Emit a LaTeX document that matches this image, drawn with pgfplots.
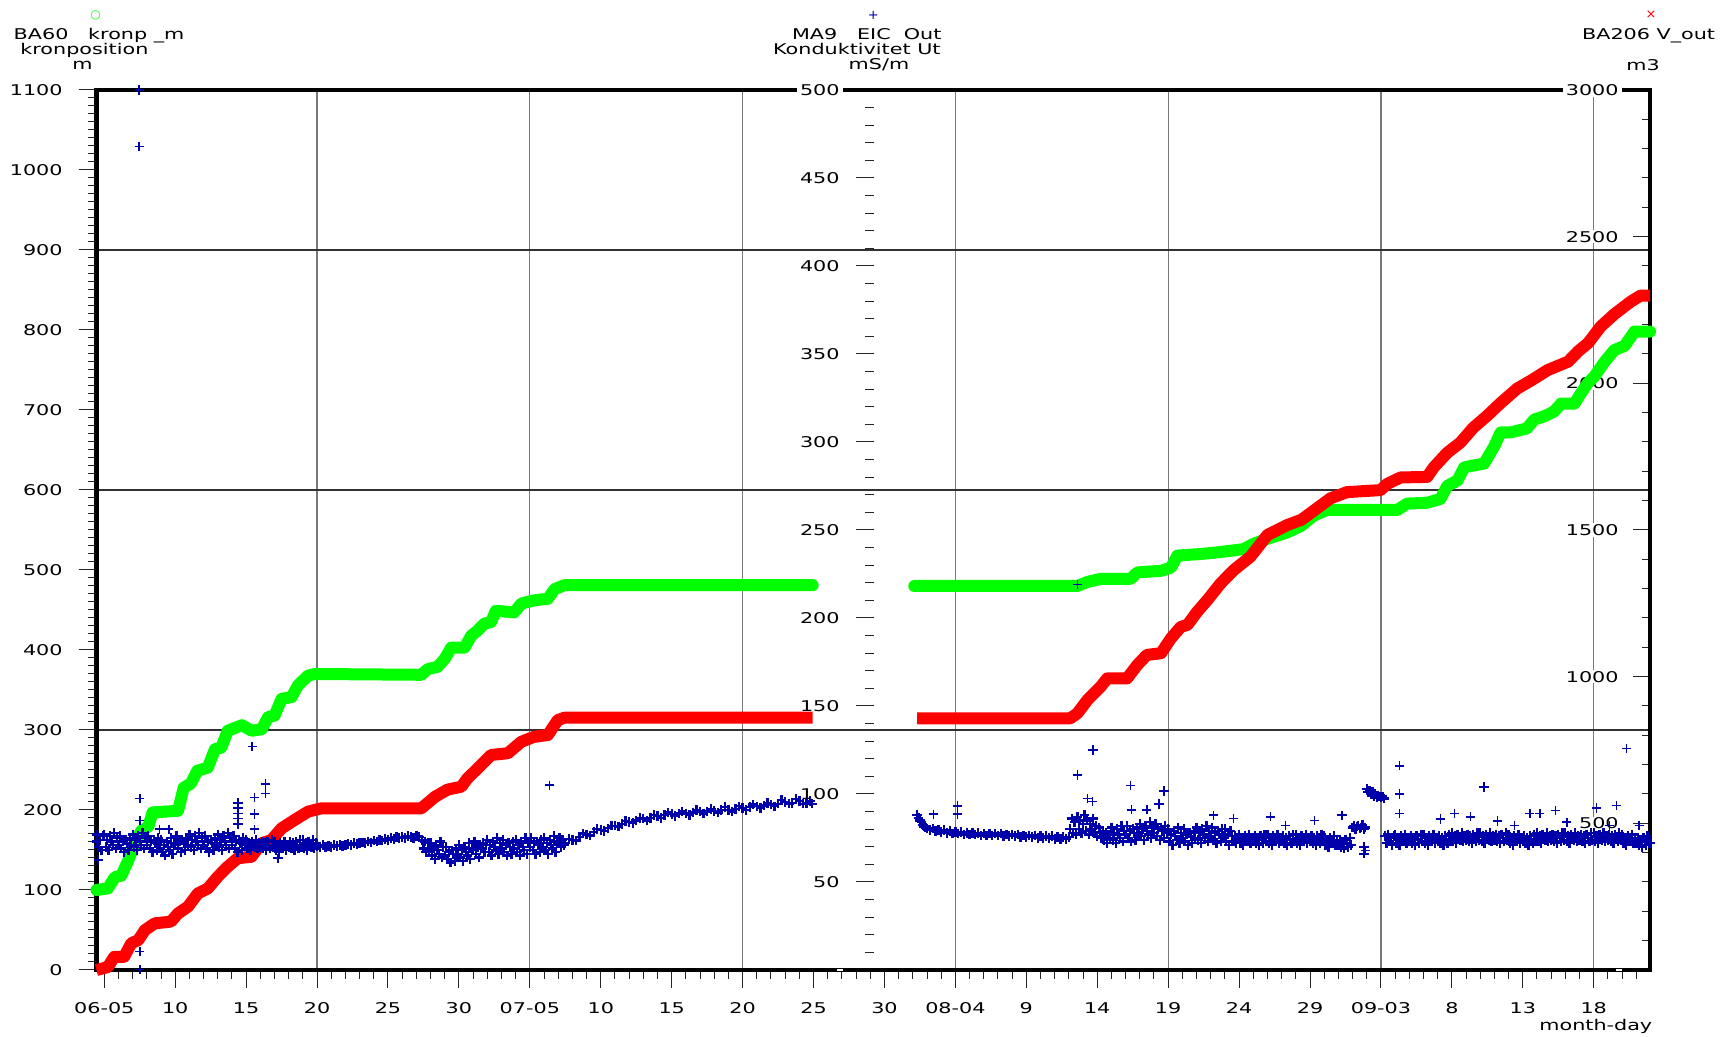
\documentclass[border=0pt]{standalone}
\usepackage{fontspec}
\setmainfont{DejaVu Sans}[FakeStretch=1.4]
\newfontfamily\symfont{DejaVu Sans}
\usepackage{pgfplots}
\pgfplotsset{compat=1.18}

\definecolor{kron}{RGB}{0,255,0}
\definecolor{vout}{RGB}{255,0,0}
\definecolor{kond}{RGB}{0,0,170}
\definecolor{vgrid}{RGB}{120,120,120}
\definecolor{hgrid}{RGB}{50,50,50}

\newcommand\lbl{\fontsize{7.4}{8.5}\selectfont}

\pgfplotsset{
  panel/.style={
    set layers, scale only axis, width=776.75pt, height=440pt,
    at={(0,0)}, anchor=south west,
    xmin=4.45, xmax=113.97, clip=false,
    ticklabel style={font=\lbl},
    major tick style={black!85, line width=0.5pt},
    minor tick style={black!85, line width=0.5pt},
  },
  kondmark/.style={only marks, mark=+, mark size=2.4pt, kond,
    mark options={line width=1.15pt}},
  kondsingle/.style={only marks, mark=+, mark size=2.3pt, kond,
    mark options={line width=0.75pt}},
}

\begin{document}
\begin{tikzpicture}

% ---------- left axis: crown position (m), frame, grid, time axis ----------
\begin{axis}[panel,
  ymin=0, ymax=1100,
  axis line style={line width=2.2pt, black},
  xtick pos=bottom, ytick pos=left, tick align=outside,
  major tick length=9pt, minor tick length=4.5pt,
  xtick={5,10,...,110},
  xticklabels={06-05,10,15,20,25,30,07-05,10,15,20,25,30,08-04,9,14,19,24,29,09-03,8,13,18},
  minor xtick={5,6,...,113},
  ytick={0,100,...,1100},
  yticklabels={0,100,200,300,400,500,600,700,800,900,1000,1100},
  minor ytick={0,10,...,1100},
  xticklabel style={anchor=north, inner sep=0pt, yshift=-7pt},
  yticklabel style={anchor=east, inner sep=0pt, xshift=-7.75pt},
  extra x ticks={20,35,50,65,80,95,110},
  extra x tick labels={},
  extra x tick style={xmajorgrids=true, major tick length=0pt,
    major grid style={vgrid, line width=0.65pt}},
  extra y ticks={300,600,900},
  extra y tick labels={},
  extra y tick style={ymajorgrids=true, major tick length=0pt,
    major grid style={hgrid, line width=0.65pt}},
]
\addplot[kron, line width=6pt, line join=round, line cap=round] coordinates {
(4.45,100) (5.25,102) (5.74,116) (6.2,118) (6.69,137) (7.16,158) (7.6,174)
(8.1,179) (8.4,197) (10.2,199) (10.6,228) (11.1,233) (11.55,249) (12.3,253)
(12.8,276) (13.25,278) (13.7,299) (14.7,306) (15.4,299) (16.1,301) (16.55,316)
(17.0,318) (17.5,339) (18.2,341) (18.66,356) (19.37,368) (19.83,370) (27.35,369)
(27.8,376) (28.5,379) (29.0,389) (29.46,403) (30.4,403) (30.87,418) (31.3,424)
(31.8,433) (32.27,435) (32.6,449) (33.9,447) (34.4,458) (35.3,462) (36.27,464)
(36.74,476) (37.44,481) (54.94,481)
};
\addplot[kron, line width=6pt, line join=round, line cap=round] coordinates {
(62.1,480) (73.6,480) (74.3,485) (75.25,489) (77.36,489) (77.83,497) (79.5,499)
(80.2,503) (80.65,518) (82.3,520) (83.46,522) (85.3,526) (86.05,533) (87.0,539)
(88.4,547) (89.35,555) (90.27,568) (91.2,575) (96.15,575) (96.85,583) (98.26,584)
(99.2,589) (99.67,605) (100.4,612) (100.86,628) (101.33,630) (102.27,633)
(102.97,654) (103.44,672) (104.15,672) (105.3,677) (105.8,688) (106.5,692)
(107.2,698) (107.7,708) (108.64,708) (109.1,721) (109.6,734) (110.05,742)
(110.76,760) (111.46,775) (112.17,780) (112.87,798) (113.97,798)
};
\end{axis}

% ---------- right axis: outflow volume (m3) ----------
\begin{axis}[panel,
  ymin=0, ymax=3000,
  axis x line=none, axis y line*=right, y axis line style={draw=none},
  tick align=inside, major tick length=8.5pt, minor tick length=4pt,
  ytick={0,500,...,3000},
  yticklabels={,500,1000,1500,2000,2500,3000},
  minor ytick={0,100,...,3000},
  yticklabel style={anchor=east, fill=white, inner xsep=1.5pt, inner ysep=0.5pt, xshift=-14pt},
]
\addplot[vout, line width=6pt, line join=round] coordinates {
(4.45,0) (5.25,10) (5.7,45) (6.4,45) (6.9,91) (7.4,102) (7.86,136) (8.56,159)
(9.7,165) (10.2,193) (10.9,216) (11.6,261) (12.3,278) (13.0,318) (13.7,352)
(14.4,381) (15.37,386) (16.08,432) (16.78,443) (17.5,483) (18.4,511) (19.37,540)
(20.3,551) (27.35,551) (28.3,590) (29.2,615) (30.17,625) (30.6,653) (31.57,699)
(32.27,733) (33.45,739) (34.4,778) (35.3,795) (36.27,801) (36.97,852)
(37.44,860) (54.94,860)
};
\addplot[vout, line width=6pt, line join=round] coordinates {
(62.3,858) (73.1,858) (73.6,875) (74.3,920) (75.25,966) (75.7,994) (77.1,994)
(77.83,1040) (78.5,1074) (79.5,1080) (80.2,1131) (80.9,1170) (81.35,1176)
(82.06,1222) (82.76,1261) (83.7,1318) (84.64,1364) (85.8,1409) (87.0,1483)
(87.7,1500) (88.4,1517) (89.4,1535) (90.27,1566) (91.45,1608) (92.6,1629)
(94.97,1636) (95.44,1657) (96.38,1679) (98.26,1681) (98.73,1714) (99.67,1763)
(100.6,1798) (101.5,1848) (102.5,1890) (103.44,1933) (104.6,1982) (105.6,2010)
(106.75,2045) (108.2,2074) (108.9,2109) (109.6,2137) (110.5,2194) (111.46,2236)
(112.6,2278) (113.3,2299) (113.97,2299)
};
\end{axis}

% ---------- conductivity (mS/m), plotted on the 0--500 scale ----------
\begin{axis}[panel, ymin=0, ymax=500, hide axis]
% June 4 -- July 25
\addplot[kondmark] coordinates {
(4.45,73)(4.5,77)(4.6,70)(4.7,74)(4.8,68)(4.9,76)
(5.0,77)(5.1,70)(5.2,74)(5.3,68)(5.4,76)(5.5,73)(5.6,71)(5.7,78)(5.8,69)(5.9,75)
(6.0,71)(6.1,76)(6.2,69)(6.3,73)(6.4,67)(6.5,74)(6.6,72)(6.7,68)(6.8,75)(6.9,71)
(7.0,77)(7.1,70)(7.2,74)(7.3,68)(7.4,76)(7.5,73)(7.6,71)(7.7,78)(7.8,69)(7.9,75)
(8.0,71)(8.1,76)(8.2,69)(8.3,73)(8.4,67)(8.5,74)(8.6,72)(8.7,68)(8.8,75)(8.9,71)
(9.0,74)(9.1,67)(9.2,71)(9.3,65)(9.4,73)(9.5,70)(9.6,68)(9.7,75)(9.8,66)(9.9,72)
(10.0,71)(10.1,76)(10.2,69)(10.3,73)(10.4,67)(10.5,74)(10.6,72)(10.7,68)(10.8,75)(10.9,71)
(11.0,77)(11.1,70)(11.2,74)(11.3,68)(11.4,76)(11.5,73)(11.6,71)(11.7,78)(11.8,69)(11.9,75)
(12.0,71)(12.1,76)(12.2,69)(12.3,73)(12.4,67)(12.5,74)(12.6,72)(12.7,68)(12.8,75)(12.9,71)
(13.0,77)(13.1,70)(13.2,74)(13.3,68)(13.4,76)(13.5,73)(13.6,71)(13.7,78)(13.8,69)(13.9,75)
(14.0,71)(14.1,76)(14.2,69)(14.3,73)(14.4,67)(14.5,74)(14.6,72)(14.7,68)(14.8,75)(14.9,71)
(15.0,74)(15.1,69)(15.2,72)(15.3,68)(15.4,73)(15.5,71)(15.6,70)(15.7,74)(15.8,69)(15.9,72)
(16.0,70)(16.1,73)(16.2,69)(16.3,72)(16.4,68)(16.5,73)(16.6,71)(16.7,69)(16.8,74)(16.9,70)
(17.0,73)(17.1,68)(17.2,71)(17.3,67)(17.4,72)(17.5,70)(17.6,69)(17.7,73)(17.8,68)(17.9,71)
(18.0,70)(18.1,73)(18.2,69)(18.3,72)(18.4,68)(18.5,73)(18.6,71)(18.7,69)(18.8,74)(18.9,70)
(19.0,74)(19.1,69)(19.2,72)(19.3,68)(19.4,73)(19.5,71)(19.6,70)(19.7,74)(19.8,69)(19.9,72)
(20.0,70.5)(20.2,70)(20.4,71)(20.6,70)(20.8,70.5)(21.0,70)(21.2,71)(21.4,70.5)(21.6,71)
(21.8,70.5)(22.0,71)(22.2,71.5)(22.4,71)(22.6,72)(22.8,71.5)(23.0,72)(23.2,72.5)(23.4,72)
(23.6,73)(23.8,72.5)(24.0,73.5)(24.2,73)(24.4,74)(24.6,73.5)(24.8,74.5)(25.0,74)(25.2,75)
(25.4,74.5)(25.6,75.5)(25.8,75)(26.0,75.5)(26.2,75)(26.4,76)(26.6,75.5)(26.8,75)(27.0,76)
(27.2,75.5)
(27.4,74)(27.5,69)(27.6,73)(27.7,67)(27.8,72)(27.9,68)
(28.0,72)(28.1,65)(28.2,69)(28.3,63)(28.4,71)(28.5,68)(28.6,66)(28.7,73)(28.8,64)(28.9,70)
(29.0,65)(29.1,70)(29.2,63)(29.3,67)(29.4,61)(29.5,68)(29.6,66)(29.7,62)(29.8,69)(29.9,65)
(30.0,71)(30.1,64)(30.2,68)(30.3,62)(30.4,70)(30.5,67)(30.6,65)(30.7,72)(30.8,63)(30.9,69)
(31.0,68)(31.1,73)(31.2,66)(31.3,70)(31.4,64)(31.5,71)(31.6,69)(31.7,72)(31.8,67)(31.9,71)
(32.0,74)(32.1,67)(32.2,71)(32.3,65)(32.4,73)(32.5,70)(32.6,68)(32.7,75)(32.8,66)(32.9,72)
(33.0,69)(33.1,74)(33.2,67)(33.3,71)(33.4,65)(33.5,72)(33.6,70)(33.7,66)(33.8,73)(33.9,69)
(34.0,74)(34.1,67)(34.2,71)(34.3,65)(34.4,73)(34.5,70)(34.6,68)(34.7,75)(34.8,66)(34.9,72)
(35.0,70)(35.1,75)(35.2,68)(35.3,72)(35.4,66)(35.5,73)(35.6,71)(35.7,67)(35.8,74)(35.9,70)
(36.0,75)(36.1,68)(36.2,72)(36.3,66)(36.4,74)(36.5,71)(36.6,69)(36.7,76)(36.8,67)(36.9,73)
(37.0,72)(37.1,75)(37.2,70)(37.3,74)(37.4,71)
(37.5,72)(37.75,74.5)(38.0,74)(38.25,73.5)(38.5,75.5)(38.75,77.5)(39.0,77)(39.25,76.5)
(39.5,78.5)(39.75,80)(40.0,79.5)(40.25,79)(40.5,80.5)(40.75,82)(41.0,82)(41.25,81.5)
(41.5,83)(41.75,84.5)(42.0,84)(42.25,83.5)(42.5,85)(42.75,86.5)(43.0,86)(43.25,85)
(43.5,86.5)(43.75,88)(44.0,87.5)(44.25,86.5)(44.5,88)(44.75,89.5)(45.0,88.5)(45.25,87.5)
(45.5,89)(45.75,90)(46.0,89)(46.25,88)(46.5,89.5)(46.75,91)(47.0,90)(47.25,89)
(47.5,90)(47.75,91.5)(48.0,90.5)(48.25,89.5)(48.5,91)(48.75,92.5)(49.0,91)(49.25,90)
(49.5,91.5)(49.75,93)(50.0,92)(50.25,91)(50.5,92.5)(50.75,94)(51.0,93)(51.25,92)
(51.5,93.5)(51.75,95)(52.0,94)(52.25,93)(52.5,94.5)(52.75,96.5)(53.0,95.5)(53.25,94.5)
(53.5,95)(53.75,97)(54.0,96)(54.25,94.5)(54.5,95)(54.75,96)(54.9,94.5)
};
% August 1 -- September 22
\addplot[kondmark] coordinates {
(62.3,88)(62.4,86.5)(62.5,85)(62.6,84)(62.7,82.5)(62.8,81.5)(62.9,81)(63.0,80.5)
(63.2,79.5)(63.4,80.5)(63.6,79)(63.8,79.5)(64.0,78.5)(64.2,79.5)(64.4,78)(64.6,79)
(64.8,77.5)(65.0,78.5)(65.2,77.5)(65.4,78.5)(65.6,77)(65.8,78)(66.0,77)(66.2,78)
(66.4,77)(66.6,78)(66.8,76.5)(67.0,77.5)(67.2,76.5)(67.4,77.5)(67.6,76.5)(67.8,77.5)
(68.0,76.5)(68.2,77.5)(68.4,76)(68.6,77)(68.8,76)(69.0,77)(69.2,76)(69.4,77)
(69.6,75.5)(69.8,76.5)(70.0,75.5)(70.2,76.5)(70.4,75.5)(70.6,76.5)(70.8,75)(71.0,76)
(71.2,75)(71.4,76)(71.6,75)(71.8,76)(72.0,74.5)(72.2,75.5)(72.4,74.5)(72.6,75.5)
(72.8,74.5)(73.0,75.5)
(73.1,80)(73.2,86)(73.3,78)(73.4,84)(73.5,77)(73.6,87)(73.7,80)(73.8,85)(73.9,78)
(74.0,83)(74.1,88)(74.2,79)(74.3,85)(74.4,77)(74.5,83)(74.6,80)(74.7,86)(74.8,78)
(74.9,82)(75.0,76)(75.1,81)(75.2,78)
(75.3,75)(75.4,79)(75.5,74)(75.6,78)(75.7,72)(75.8,77)(75.9,75)
(76.0,81)(76.1,74)(76.2,78)(76.3,72)(76.4,80)(76.5,77)(76.6,75)(76.7,82)(76.8,73)(76.9,79)
(77.0,77)(77.1,82)(77.2,75)(77.3,79)(77.4,73)(77.5,80)(77.6,78)(77.7,74)(77.8,81)(77.9,77)
(78.0,83)(78.1,76)(78.2,80)(78.3,74)(78.4,82)(78.5,79)(78.6,77)(78.7,84)(78.8,75)(78.9,81)
(79.0,78)(79.1,83)(79.2,76)(79.3,80)(79.4,74)(79.5,81)(79.6,79)(79.7,75)(79.8,82)(79.9,78)
(80.0,80)(80.1,73)(80.2,77)(80.3,71)(80.4,79)(80.5,76)(80.6,74)(80.7,81)(80.8,72)(80.9,78)
(81.0,75)(81.1,80)(81.2,73)(81.3,77)(81.4,71)(81.5,78)(81.6,76)(81.7,72)(81.8,79)(81.9,75)
(82.0,81)(82.1,74)(82.2,78)(82.3,72)(82.4,80)(82.5,77)(82.6,75)(82.7,82)(82.8,73)(82.9,79)
(83.0,76)(83.1,81)(83.2,74)(83.3,78)(83.4,72)(83.5,79)(83.6,77)(83.7,73)(83.8,80)(83.9,76)
(84.0,80)(84.1,73)(84.2,77)(84.3,71)(84.4,79)(84.5,76)
(84.6,73)(84.7,76)(84.8,72)(84.9,75)
(85.0,77)(85.1,72)(85.2,75)(85.3,71)(85.4,76)(85.5,74)(85.6,73)(85.7,77)(85.8,72)(85.9,75)
(86.0,73)(86.1,76)(86.2,72)(86.3,75)(86.4,71)(86.5,76)(86.6,74)(86.7,72)(86.8,77)(86.9,73)
(87.0,77)(87.1,72)(87.2,75)(87.3,71)(87.4,76)(87.5,74)(87.6,73)(87.7,77)(87.8,72)(87.9,75)
(88.0,73)(88.1,76)(88.2,72)(88.3,75)(88.4,71)(88.5,76)(88.6,74)(88.7,72)(88.8,77)(88.9,73)
(89.0,77)(89.1,72)(89.2,75)(89.3,71)(89.4,76)(89.5,74)(89.6,73)(89.7,77)(89.8,72)(89.9,75)
(90.0,73)(90.1,76)(90.2,72)(90.3,75)(90.4,71)(90.5,76)(90.6,74)(90.7,72)(90.8,77)(90.9,73)
(91.0,76)(91.1,71)(91.2,74)(91.3,70)(91.4,75)(91.5,73)(91.6,72)(91.7,76)(91.8,71)(91.9,74)
(92.0,71)(92.1,74)(92.2,70)(92.3,73)(92.4,69)(92.5,74)(92.6,72)(92.7,70)(92.8,75)(92.9,71)
(93.0,81)(93.1,82)(93.2,80)(93.3,81.5)(93.4,82)(93.5,80.5)(93.6,81)(93.7,82.5)(93.8,80)(93.9,81)
(94.0,103)(94.1,101)(94.2,102)(94.3,100)(94.4,101)(94.5,99)(94.6,100)(94.7,98)(94.8,99)
(94.9,98.5)(95.0,98)(95.1,98.5)(95.2,97.5)
(95.3,76)(95.4,72)(95.5,77)(95.6,73)(95.7,75)(95.8,71)(95.9,76)
(96.0,77)(96.1,72)(96.2,75)(96.3,71)(96.4,76)(96.5,74)(96.6,73)(96.7,77)(96.8,72)(96.9,75)
(97.0,73)(97.1,76)(97.2,72)(97.3,75)(97.4,71)(97.5,76)(97.6,74)(97.7,72)(97.8,77)(97.9,73)
(98.0,77)(98.1,72)(98.2,75)(98.3,71)(98.4,76)(98.5,74)(98.6,73)(98.7,77)(98.8,72)(98.9,75)
(99.0,73)(99.1,76)(99.2,72)(99.3,75)(99.4,71)(99.5,76)(99.6,74)(99.7,72)(99.8,77)(99.9,73)
(100.0,78)(100.1,73)(100.2,76)(100.3,72)(100.4,77)(100.5,75)(100.6,74)(100.7,78)(100.8,73)(100.9,76)
(101.0,74)(101.1,77)(101.2,73)(101.3,76)(101.4,72)(101.5,77)(101.6,75)(101.7,73)(101.8,78)(101.9,74)
(102.0,78)(102.1,73)(102.2,76)(102.3,72)(102.4,77)(102.5,75)(102.6,74)(102.7,78)(102.8,73)(102.9,76)
(103.0,74)(103.1,77)(103.2,73)(103.3,76)(103.4,72)(103.5,77)(103.6,75)(103.7,73)(103.8,78)(103.9,74)
(104.0,77)(104.1,72)(104.2,75)(104.3,71)(104.4,76)(104.5,74)(104.6,73)(104.7,77)(104.8,72)(104.9,75)
(105.0,73)(105.1,76)(105.2,72)(105.3,75)(105.4,71)(105.5,76)(105.6,74)(105.7,72)(105.8,77)(105.9,73)
(106.0,78)(106.1,73)(106.2,76)(106.3,72)(106.4,77)(106.5,75)(106.6,74)(106.7,78)(106.8,73)(106.9,76)
(107.0,74)(107.1,77)(107.2,73)(107.3,76)(107.4,72)(107.5,77)(107.6,75)(107.7,73)(107.8,78)(107.9,74)
(108.0,78)(108.1,73)(108.2,76)(108.3,72)(108.4,77)(108.5,75)(108.6,74)(108.7,78)(108.8,73)(108.9,76)
(109.0,74)(109.1,77)(109.2,73)(109.3,76)(109.4,72)(109.5,77)(109.6,75)(109.7,73)(109.8,78)(109.9,74)
(110.0,78)(110.1,73)(110.2,76)(110.3,72)(110.4,77)(110.5,75)(110.6,74)(110.7,78)(110.8,73)(110.9,76)
(111.0,74)(111.1,77)(111.2,73)(111.3,76)(111.4,72)(111.5,77)(111.6,75)(111.7,73)(111.8,78)(111.9,74)
(112.0,77)(112.1,72)(112.2,75)(112.3,71)(112.4,76)(112.5,74)(112.6,73)(112.7,77)(112.8,72)(112.9,75)
(113.0,72)(113.1,75)(113.2,71)(113.3,74)(113.4,70)(113.5,75)(113.6,73)(113.7,71)(113.8,76)(113.9,72)
(113.97,72)
};
% isolated readings away from the main band
\addplot[kondsingle] coordinates {
(7.46,500)(7.46,468)(7.5,97.5)(7.5,84.8)(7.5,10.4)(7.5,0.4)(9.55,80)(8.9,80)
(4.57,62.5)(14.43,95)(14.43,92)(14.43,89)(14.43,86)(14.43,83)(15.42,127)
(15.6,98)(15.6,88.6)(15.6,80)(16.36,105.7)(16.36,100.4)(17.25,63.5)(36.4,105)
(73.6,219)(74.7,125)(73.6,110.8)(74.3,97.5)(74.65,95.6)(77.36,104.7)(77.4,91)
(78.5,91)(79.35,94.3)(79.7,101.7)(65.15,93.2)(65.15,88.5)(63.46,88.5)(83.2,88)
(84.6,86)(87.2,87)(88.26,82)(90.3,85)(92.25,88)(96.3,116)(96.3,100)(96.3,89)
(102.27,104)(105.5,89)(106.2,89)(107.3,90.7)(110.2,92)(111.6,93.6)(112.3,125.8)
(113.2,82)(104.4,82)(99.2,85.8)(100.2,89)(101.3,87)(103.2,84.7)(108.1,84)
(111.1,82)(93.8,70)(93.8,66)(93.9,68)
};
\end{axis}

% ---------- middle scale for the conductivity ----------
\begin{axis}[
  set layers, scale only axis, width=388pt, height=440pt,
  at={(388.75pt,0)}, anchor=south west,
  xmin=0, xmax=1, ymin=0, ymax=500,
  axis x line=none, axis y line*=left, y axis line style={draw=none},
  tick align=outside, major tick length=9pt, minor tick length=4.5pt,
  major tick style={black!85, line width=0.5pt},
  minor tick style={black!85, line width=0.5pt},
  ytick={0,50,...,500},
  yticklabels={,50,100,150,200,250,300,350,400,450,500},
  minor ytick={10,20,...,490},
  ticklabel style={font=\lbl},
  yticklabel style={anchor=east, fill=white, inner xsep=1.5pt, inner ysep=0.5pt, xshift=-6.5pt},
]
\end{axis}

% ---------- series headers ----------
\begin{scope}[every node/.style={inner sep=0pt, font=\lbl}]
\node[anchor=base west] at (-41.6pt,465.35pt) {BA60\ \ \ kronp\ \_m};
\node[anchor=base west] at (-38.25pt,457.75pt) {kronposition};
\node[anchor=base west] at (-12.25pt,450pt) {m};
\node[kron] at (-0.4pt,477.5pt) {\symfont\fontsize{6}{6}\selectfont ○};
\node[anchor=base west] at (347.6pt,465.35pt) {MA9\ \ \ EIC\ \ Out};
\node[anchor=base west] at (338.1pt,457.75pt) {Konduktivitet Ut};
\node[anchor=base west] at (375.9pt,450pt) {mS/m};
\node[kond] at (388.4pt,477.5pt) {\symfont\fontsize{6.5}{6.5}\selectfont +};
\node[anchor=base west] at (742.6pt,465.35pt) {BA206 V\_out};
\node[anchor=base west] at (764.75pt,449.5pt) {m3};
\node[vout] at (777.25pt,477.5pt) {\symfont\fontsize{6.5}{6.5}\selectfont ×};
\node[anchor=base east] at (778.05pt,-30.5pt) {month-day};
\end{scope}

\pgfresetboundingbox
\path[use as bounding box] (-48.25pt,-33.5pt) rectangle (815.25pt,485pt);
\end{tikzpicture}
\end{document}
